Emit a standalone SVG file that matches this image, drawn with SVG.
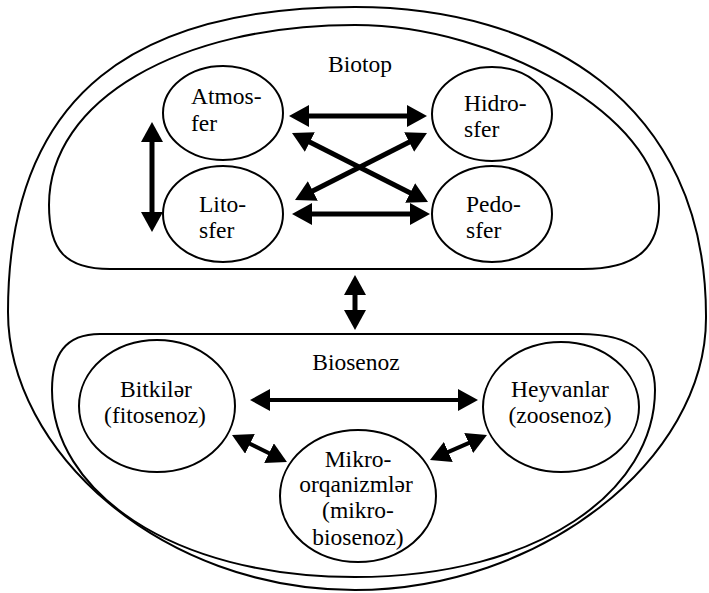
<svg xmlns="http://www.w3.org/2000/svg" width="709" height="593" viewBox="0 0 709 593">
<style>
.sh{fill:none;stroke:#000;stroke-width:2}
.nd{fill:#fff;stroke:#000;stroke-width:2}
.c{text-anchor:middle}
.ar{stroke:#000;stroke-width:5;fill:none;marker-start:url(#ah);marker-end:url(#ah)}
.ar2{stroke:#000;stroke-width:4;fill:none;marker-start:url(#ah);marker-end:url(#ah)}
</style>
<defs>
<marker id="ah" viewBox="0 0 20 22" refX="8" refY="11" markerWidth="20" markerHeight="22" markerUnits="userSpaceOnUse" orient="auto-start-reverse"><path d="M0,0 L20,11 L0,22 Z" fill="#000"/></marker>
</defs>
<rect width="709" height="593" fill="#fff"/>
<g font-family="Liberation Serif, Times New Roman, serif" font-size="23.5" fill="#000">
<g id="ecosystem"><path class="sh" d="M355 7 C540 7 707 100 706 318 C706 460 540 590 355 590 C160 590 8 450 8 312 C8 90 140 7 355 7 Z"/></g>
<g id="biotop">
<path class="sh" d="M110 269 L583 269 C640 269 660 245 659 205 C659 120 500 25 355 25 C180 25 49 100 49 205 C49 250 65 269 110 269 Z"/>
<text class="c" x="360" y="72">Biotop</text>
</g>
<g id="biosenoz">
<path class="sh" d="M100 334 L580 334 C640 334 655 360 655 390 C655 490 540 577 355 577 C170 577 52 490 52 390 C52 355 65 334 100 334 Z"/>
<text class="c" x="356" y="370">Biosenoz</text>
</g>
<g id="atmosfer"><ellipse class="nd" cx="223" cy="113" rx="60" ry="47"/><text x="191" y="104">Atmos-</text><text x="191" y="131">fer</text></g>
<g id="hidrosfer"><ellipse class="nd" cx="492" cy="114" rx="60" ry="47"/><text x="464" y="111">Hidro-</text><text x="464" y="137">sfer</text></g>
<g id="litosfer"><ellipse class="nd" cx="223" cy="214" rx="60" ry="48"/><text x="199" y="212">Lito-</text><text x="199" y="238">sfer</text></g>
<g id="pedosfer"><ellipse class="nd" cx="492" cy="214" rx="60" ry="48"/><text x="466" y="212">Pedo-</text><text x="466" y="238">sfer</text></g>
<g id="bitkiler"><ellipse class="nd" cx="157" cy="406" rx="78" ry="66"/><text class="c" x="156" y="397">Bitkilər</text><text class="c" x="155" y="423">(fitosenoz)</text></g>
<g id="heyvanlar"><ellipse class="nd" cx="561" cy="407" rx="78" ry="65"/><text class="c" x="560" y="397">Heyvanlar</text><text class="c" x="560" y="423">(zoosenoz)</text></g>
<g id="mikroorqanizmler"><ellipse class="nd" cx="358" cy="496" rx="78" ry="66"/><text class="c" x="358" y="467">Mikro-</text><text class="c" x="356" y="492">orqanizmlər</text><text class="c" x="358" y="518">(mikro-</text><text class="c" x="358" y="545">biosenoz)</text></g>
</g>
<g id="connectors">
<line class="ar" x1="301" y1="116" x2="415" y2="116"/>
<line class="ar" x1="304" y1="214" x2="418" y2="214"/>
<line class="ar" x1="302.7" y1="138.4" x2="417.3" y2="196.6"/>
<line class="ar" x1="305.7" y1="194.6" x2="416.3" y2="138.4"/>
<line class="ar" x1="152" y1="134" x2="152" y2="220"/>
<line class="ar" x1="355" y1="287" x2="355" y2="318"/>
<line class="ar2" x1="262" y1="400" x2="466" y2="400"/>
<line class="ar2" x1="242.8" y1="440.3" x2="276.2" y2="456.7"/>
<line class="ar2" x1="441" y1="455.2" x2="476" y2="439.8"/>
</g>
</svg>
